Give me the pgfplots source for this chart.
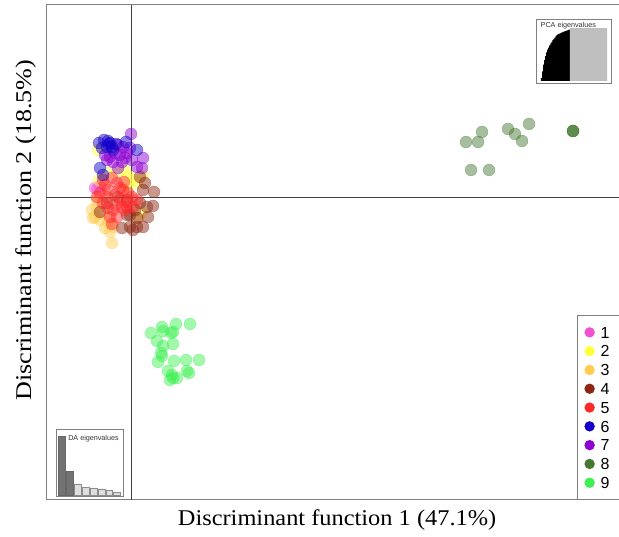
\documentclass[border=0pt]{standalone}
\usepackage{fontspec}
\setmainfont{Liberation Serif}
\setsansfont{Liberation Sans}
\usepackage{pgfplots}
\pgfplotsset{compat=1.18}
\definecolor{c1}{RGB}{240,80,210}
\definecolor{c2}{RGB}{255,255,60}
\definecolor{c3}{RGB}{255,204,80}
\definecolor{c4}{RGB}{140,40,20}
\definecolor{c5}{RGB}{255,40,40}
\definecolor{c6}{RGB}{20,0,200}
\definecolor{c7}{RGB}{140,0,210}
\definecolor{c8}{RGB}{70,120,50}
\definecolor{c9}{RGB}{60,240,80}
\definecolor{framegray}{RGB}{128,128,128}
\pgfplotsset{pt/.style={only marks, mark=*, mark size=6pt, forget plot,
  mark options={fill opacity=0.48, draw opacity=0.48, line width=0.3pt}},
  dot/.style={legend image code/.code={\path[draw=none] (0cm,0cm) (0.6cm,0cm); \fill[#1, draw=none] (0.25cm,0cm) circle (5.2pt);}}}
\begin{document}
\begin{tikzpicture}
\useasboundingbox (0,0) rectangle (619pt,536pt);
\begin{axis}[
 at={(46pt,36pt)}, anchor=south west,
 width=573pt, height=495pt, scale only axis,
 xmin=46, xmax=619, ymin=36, ymax=531,
 xtick=\empty, ytick=\empty,
 axis line style={draw=framegray, line width=1pt},
 xlabel={\scalebox{1.084}[1]{Discriminant function 1 (47.1\%)}},
 ylabel={\scalebox{1.16}[1]{Discriminant function 2 (18.5\%)}},
 label style={font=\fontsize{22.5}{26}\selectfont},
 xlabel style={at={(axis description cs:0.508,-0.052)}, anchor=base},
 ylabel style={at={(axis description cs:-0.026,0.545)}, anchor=base},
 legend style={at={(axis cs:577,36)}, anchor=south west, draw=framegray, line width=1pt,
   font=\fontsize{16}{16}\selectfont\sffamily, cells={anchor=west}, row sep=5.3pt,
   inner xsep=5pt, inner ysep=10pt, nodes={inner sep=1pt, text height=11.5pt, text depth=0pt}},
 ]
\draw[line width=1pt, black!75] (axis cs:131,36) -- (axis cs:131,531);
\draw[line width=1pt, black!75] (axis cs:46,338) -- (axis cs:619,338);
% 1
\addplot[pt, color=c1] coordinates {(95,348) (97,347) (100,350)};
% 2
\addplot[pt, color=c2] coordinates {(98,386) (99,356) (133,356) (143,361) (125,366) (137,353) (127,349) (142,324) (118,364) (108,363) (128,360)};
% 3
\addplot[pt, color=c3] coordinates {(97,329) (95,319) (93,318) (100,316) (105,308) (110,304) (112,293) (103,323) (138,318) (113,309) (97,336) (92,326) (108,314)};
% 4
\addplot[pt, color=c4] coordinates {(143,346) (154,344) (140,333) (147,329) (153,330) (130,321) (137,318) (127,321) (148,319) (137,309) (143,309) (122,308) (130,309) (133,306) (140,359) (118,339) (100,324) (127,336) (107,333) (145,353) (135,326)};
% 5
\addplot[pt, color=c5] coordinates {(103,356) (112,358) (117,353) (108,346) (100,343) (115,341) (123,346) (120,336) (127,334) (132,339) (103,333) (113,326) (122,329) (110,319) (127,329) (117,319) (107,339) (97,339) (125,326) (133,329) (112,312) (137,336) (105,351) (120,348) (128,343) (115,331) (108,328) (124,354)};
% 7
\addplot[pt, color=c7] coordinates {(131,402) (118,391) (123,389) (115,383) (120,381) (127,383) (132,376) (143,378) (107,376) (113,374) (122,374) (110,379) (137,369) (142,368) (118,368) (125,378) (130,388) (105,381)};
% 6
\addplot[pt, color=c6] coordinates {(99,393) (108,395) (109,392) (112,389) (113,386) (107,389) (102,388) (126,394) (137,386) (100,368) (103,361) (110,393) (116,392) (104,396)};
% 8
\addplot[pt, color=c8] coordinates {(466,394) (478,394) (482,404) (508,407) (515,402) (522,395) (529,412) (573,405) (573,405) (573,405) (471,366) (489,366)};
% 9
\addplot[pt, color=c9] coordinates {(151,203) (162,209) (163,205) (176,212) (190,212) (171,203) (173,204) (157,195) (163,190) (173,192) (161,183) (162,180) (158,174) (174,175) (186,176) (199,176) (168,165) (172,161) (173,158) (187,165) (177,158) (189,163) (170,156)};
\addlegendimage{dot=c1}\addlegendentry{1\hspace*{30pt}}
\addlegendimage{dot=c2}\addlegendentry{2}
\addlegendimage{dot=c3}\addlegendentry{3}
\addlegendimage{dot=c4}\addlegendentry{4}
\addlegendimage{dot=c5}\addlegendentry{5}
\addlegendimage{dot=c6}\addlegendentry{6}
\addlegendimage{dot=c7}\addlegendentry{7}
\addlegendimage{dot=c8}\addlegendentry{8}
\addlegendimage{dot=c9}\addlegendentry{9}
\end{axis}
% DA eigenvalues inset
\begin{axis}[
 at={(56pt,40pt)}, anchor=south west,
 width=67pt, height=67pt, scale only axis,
 xmin=0.25, xmax=8.75, ymin=-2, ymax=200,
 xtick=\empty, ytick=\empty,
 axis line style={draw=framegray, line width=0.6pt},
 ybar, bar width=0.88, bar shift=0pt, axis background/.style={fill=white},
 ]
\addplot[fill=black!55, draw=black!60, line width=0.4pt, bar shift=0pt] coordinates {(1,178) (2,73)};
\addplot[fill=black!13, draw=black!45, line width=0.4pt, bar shift=0pt] coordinates {(3,35) (4,25) (5,22) (6,20) (7,14) (8,10)};
\node[anchor=base west, font=\fontsize{7.2}{8}\sffamily, inner sep=0pt, text=black!80] at (rel axis cs:0.18,0.83) {DA eigenvalues};
\end{axis}
% PCA eigenvalues inset
\begin{axis}[
 at={(536pt,453pt)}, anchor=south west,
 width=75pt, height=64pt, scale only axis,
 xmin=-4.35, xmax=68.4, ymin=-3.8, ymax=117,
 xtick=\empty, ytick=\empty,
 axis line style={draw=framegray, line width=0.6pt},
 ybar, bar width=1.06, bar shift=0pt, axis background/.style={fill=white},
 ]
\addplot[fill=black, draw=none, bar shift=0pt] coordinates {(1,6) (2,18) (3,31) (4,40) (5,47) (6,54) (7,59) (8,63) (9,67) (10,71) (11,74) (12,77) (13,79.5) (14,82) (15,84) (16,86.5) (17,88) (18,89) (19,90) (20,91) (21,91.8) (22,92.5) (23,93.3) (24,94) (25,94.8) (26,95.5) (27,96.3) (28,97)};
\addplot[fill=black!25, draw=none, bar shift=0pt] coordinates {(29,100) (30,100) (31,100) (32,100) (33,100) (34,100) (35,100) (36,100) (37,100) (38,100) (39,100) (40,100) (41,100) (42,100) (43,100) (44,100) (45,100) (46,100) (47,100) (48,100) (49,100) (50,100) (51,100) (52,100) (53,100) (54,100) (55,100) (56,100) (57,100) (58,100) (59,100) (60,100) (61,100) (62,100) (63,100) (64,100)};
\node[anchor=base west, font=\fontsize{7.2}{8}\sffamily, inner sep=0pt, text=black!80] at (rel axis cs:0.06,0.86) {PCA eigenvalues};
\end{axis}
\end{tikzpicture}
\end{document}
